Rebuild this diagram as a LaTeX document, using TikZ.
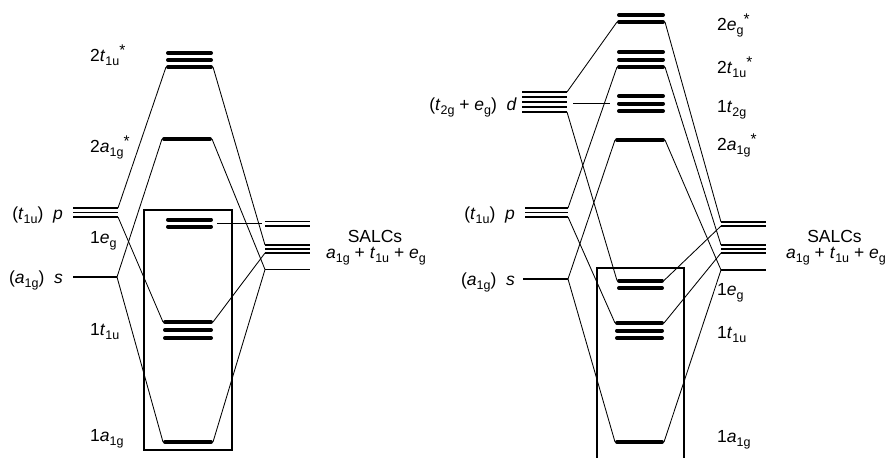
\documentclass[tikz,border=0pt]{standalone}
\usepackage{fontspec}
\setmainfont{Liberation Sans}
\newcommand{\lblfont}{\fontsize{17.5}{20}\selectfont}
\newcommand{\sbs}[1]{\raisebox{-0.45ex}{\fontsize{12.5}{13}\selectfont #1}}
\newcommand{\st}{\raisebox{0.55ex}{\fontsize{15.5}{15}\selectfont *}}
\begin{document}
\begin{tikzpicture}[x=1pt,y=-1pt,
  mo/.style={line width=4pt, line cap=round},
  ao/.style={line width=1.3pt},
  conn/.style={line width=0.85pt},
  frame/.style={line width=1.9pt},
  lbl/.style={inner sep=0pt, font=\lblfont}]
\useasboundingbox[fill=white] (0,0) rectangle (892,458);

% ===================== LEFT DIAGRAM =====================
% metal AOs
\coordinate (Lpt) at (118,208);
\coordinate (Lpb) at (118,217);
\coordinate (Ls) at (117,277);
\draw[ao] (73,208) -- (Lpt);
\draw[ao] (73,212.5) -- (118,212.5);
\draw[ao] (73,217) -- (Lpb);
\draw[ao] (73,277) -- (Ls);
% MOs
\foreach \y in {53,60,67} \draw[mo] (168,\y) -- (211,\y);
\coordinate (L2tl) at (166,67); \coordinate (L2tr) at (213,67);
\draw[mo] (164,139) -- (210,139);
\coordinate (L2al) at (162,139); \coordinate (L2ar) at (212,139);
\draw[mo] (168,219.5) -- (211,219.5);
\draw[mo] (168,226.5) -- (211,226.5);
\coordinate (L1er) at (217,223);
\foreach \y in {322,330,338} \draw[mo] (165,\y) -- (211,\y);
\coordinate (L1tl) at (163,322); \coordinate (L1tr) at (213,322);
\draw[mo] (165,442) -- (211,442);
\coordinate (L1al) at (163,442); \coordinate (L1ar) at (213,442);
% SALCs
\foreach \y in {221.5,226,245,249,253,269.5} \draw[ao] (265,\y) -- (310,\y);
\coordinate (LSe) at (262,223);
\coordinate (LSt1) at (265,245); \coordinate (LSt3) at (265,253);
\coordinate (LSa) at (265,269.5);
% connectors
\draw[conn] (Lpt) -- (L2tl);
\draw[conn] (Lpb) -- (L1tl);
\draw[conn] (Ls) -- (L2al);
\draw[conn] (Ls) -- (L1al);
\draw[conn] (L2tr) -- (LSt1);
\draw[conn] (L2ar) -- (LSa);
\draw[conn] (L1er) -- (LSe);
\draw[conn] (L1tr) -- (LSt3);
\draw[conn] (L1ar) -- (LSa);
% box
\draw[frame] (144,210) rectangle (232,450);
% labels
\node[lbl, anchor=base west] (ll1) at (90,61) {2\textit{t}\sbs{1u}\st};
\node[lbl, anchor=base west] (ll2) at (90,152) {2\textit{a}\sbs{1g}\st};
\node[lbl, anchor=base west] (ll3) at (90,243) {1\textit{e}\sbs{g}};
\node[lbl, anchor=base west] (ll4) at (90,335) {1\textit{t}\sbs{1u}};
\node[lbl, anchor=base west] (ll5) at (90,441) {1\textit{a}\sbs{1g}};
\node[lbl, anchor=base east] (ll6) at (63,219) {(\textit{t}\sbs{1u})\hspace{0.55em}\textit{p}};
\node[lbl, anchor=base east] (ll7) at (63,283) {(\textit{a}\sbs{1g})\hspace{0.55em}\textit{s}};
\node[lbl, anchor=base] (ll8) at (375,242) {SALCs};
\node[lbl, anchor=base] (ll9) at (376,258) {\textit{a}\sbs{1g} + \textit{t}\sbs{1u} + \textit{e}\sbs{g}};

% ===================== RIGHT DIAGRAM =====================
% metal AOs
\foreach \y in {92,97,102,107,112} \draw[ao] (522,\y) -- (567,\y);
\coordinate (Rdt) at (567,92); \coordinate (Rdb) at (567,112);
\coordinate (Rdn) at (573,103.5);
\coordinate (Rpt) at (568,208);
\coordinate (Rpb) at (568,217);
\draw[ao] (525,208) -- (Rpt);
\draw[ao] (525,212.5) -- (568,212.5);
\draw[ao] (525,217) -- (Rpb);
\coordinate (Rs) at (568,279);
\draw[ao] (523,279) -- (Rs);
% MOs
\draw[mo] (619,15) -- (663,15);
\draw[mo] (619,22) -- (663,22);
\coordinate (R2el) at (617,22); \coordinate (R2er) at (665,22);
\foreach \y in {52,59.5,67} \draw[mo] (619,\y) -- (663,\y);
\coordinate (R2tl) at (617,67); \coordinate (R2tr) at (665,67);
\foreach \y in {96,103.5,111} \draw[mo] (619,\y) -- (663,\y);
\coordinate (R1nl) at (610,103.5);
\draw[mo] (617,140) -- (663,140);
\coordinate (R2al) at (615,140); \coordinate (R2ar) at (665,140);
\draw[mo] (619,280.5) -- (662,280.5);
\draw[mo] (619,288) -- (662,288);
\coordinate (R1el) at (617,280.5); \coordinate (R1er) at (664,280.5);
\foreach \y in {323,330.5,338} \draw[mo] (617,\y) -- (662,\y);
\coordinate (R1tl) at (615,323); \coordinate (R1tr) at (664,323);
\draw[mo] (617,442) -- (662,442);
\coordinate (R1al) at (615,442); \coordinate (R1ar) at (664,442);
% SALCs
\foreach \y in {222,226,245,249,253,270} \draw[ao] (721,\y) -- (766,\y);
\coordinate (RSe1) at (721,222); \coordinate (RSe2) at (721,226);
\coordinate (RSt1) at (721,245); \coordinate (RSt3) at (721,253);
\coordinate (RSa) at (721,270);
% connectors
\draw[conn] (Rdt) -- (R2el);
\draw[conn] (Rdb) -- (R1el);
\draw[conn] (Rdn) -- (R1nl);
\draw[conn] (Rpt) -- (R2tl);
\draw[conn] (Rpb) -- (R1tl);
\draw[conn] (Rs) -- (R2al);
\draw[conn] (Rs) -- (R1al);
\draw[conn] (R2er) -- (RSe1);
\draw[conn] (R2tr) -- (RSt1);
\draw[conn] (R2ar) -- (RSa);
\draw[conn] (R1er) -- (RSe2);
\draw[conn] (R1tr) -- (RSt3);
\draw[conn] (R1ar) -- (RSa);
% box (open at the bottom edge of the picture)
\draw[frame] (597,462) -- (597,268) -- (684,268) -- (684,462);
% labels
\node[lbl, anchor=base west] (rl1) at (717,30) {2\textit{e}\sbs{g}\st};
\node[lbl, anchor=base west] (rl2) at (717,73) {2\textit{t}\sbs{1u}\st};
\node[lbl, anchor=base west] (rl3) at (717,112) {1\textit{t}\sbs{2g}};
\node[lbl, anchor=base west] (rl4) at (717,150) {2\textit{a}\sbs{1g}\st};
\node[lbl, anchor=base west] (rl5) at (717,295) {1\textit{e}\sbs{g}};
\node[lbl, anchor=base west] (rl6) at (717,338) {1\textit{t}\sbs{1u}};
\node[lbl, anchor=base west] (rl7) at (717,442) {1\textit{a}\sbs{1g}};
\node[lbl, anchor=base east] (rl8) at (517,110) {(\textit{t}\sbs{2g} + \textit{e}\sbs{g})\hspace{0.55em}\textit{d}};
\node[lbl, anchor=base east] (rl9) at (515,219) {(\textit{t}\sbs{1u})\hspace{0.55em}\textit{p}};
\node[lbl, anchor=base east] (rl10) at (515,285) {(\textit{a}\sbs{1g})\hspace{0.55em}\textit{s}};
\node[lbl, anchor=base] (rl11) at (834.5,242) {SALCs};
\node[lbl, anchor=base] (rl12) at (836,258) {\textit{a}\sbs{1g} + \textit{t}\sbs{1u} + \textit{e}\sbs{g}};
\end{tikzpicture}
\end{document}
